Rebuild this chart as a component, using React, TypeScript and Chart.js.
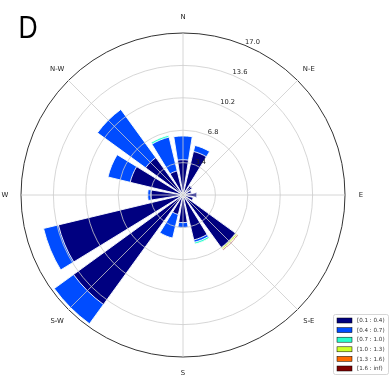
import React, { useEffect, useRef } from "react";
import { Chart, registerables } from "chart.js";

Chart.register(...registerables);

// 16 wind directions, clockwise from North
const directions = ["N", "NNE", "NE", "ENE", "E", "ESE", "SE", "SSE", "S", "SSW", "SW", "WSW", "W", "WNW", "NW", "NNW"];
const compassLabels = ["N", "N-E", "E", "S-E", "S", "S-W", "W", "N-W"];

// frequency (%) per speed bin and direction
const bin01to04 = [3.7, 4.7, 1.2, 0.9, 1.45, 1.1, 6.85, 4.85, 2.9, 2.1, 14.2, 13.45, 3.35, 5.7, 4.85, 2.6];
const bin04to07 = [2.5, 0.65, 0, 0, 0, 0, 0, 0.25, 0.55, 2.55, 2.5, 1.6, 0.35, 2.4, 6.25, 3.65];
const bin07to10 = [0, 0, 0, 0, 0, 0, 0, 0.2, 0, 0, 0, 0, 0, 0, 0, 0.2];
const bin10to13 = [0, 0, 0, 0, 0, 0, 0.16, 0, 0, 0, 0, 0, 0, 0, 0, 0];
const bin13to16 = [0, 0, 0, 0, 0, 0, 0.05, 0, 0, 0, 0, 0, 0, 0, 0, 0];
const bin16toInf = [0, 0, 0, 0, 0, 0, 0.1, 0, 0, 0, 0, 0, 0, 0, 0, 0];

const bins = [bin01to04, bin04to07, bin07to10, bin10to13, bin13to16, bin16toInf];
const binLabels = ["[0.1 : 0.4)", "[0.4 : 0.7)", "[0.7 : 1.0)", "[1.0 : 1.3)", "[1.3 : 1.6)", "[1.6 : inf)"];
const binColors = ["#000080", "#004cff", "#29ffce", "#ceff29", "#ff6800", "#800000"];

const radialMax = 17.0;
const radialStep = 3.4;

const SECTOR = 360 / directions.length;
const BAR = SECTOR * 0.8;
const GAP = SECTOR - BAR;

const TEXT_FONT = '"DejaVu Sans", sans-serif';

const overlayPlugin = {
  id: "windroseOverlay",
  afterDraw(chart: any) {
    const ctx = chart.ctx as CanvasRenderingContext2D;
    const scale = chart.scales.r;
    const xc = scale.xCenter;
    const yc = scale.yCenter;
    const R = scale.drawingArea;
    ctx.save();

    // angle grid lines (8 compass directions)
    ctx.strokeStyle = "#cccccc";
    ctx.lineWidth = 0.8;
    for (let i = 0; i < 8; i++) {
      const a = (i * Math.PI) / 4;
      ctx.beginPath();
      ctx.moveTo(xc, yc);
      ctx.lineTo(xc + R * Math.sin(a), yc - R * Math.cos(a));
      ctx.stroke();
    }

    // radial tick labels at 22.5 degrees
    ctx.fillStyle = "#222222";
    ctx.font = `6.7px ${TEXT_FONT}`;
    ctx.textAlign = "left";
    ctx.textBaseline = "alphabetic";
    const la = (22.5 * Math.PI) / 180;
    for (const t of scale.ticks) {
      if (t.value <= 0) continue;
      const r = scale.getDistanceFromCenterForValue(t.value);
      ctx.fillText(Number(t.value).toFixed(1), xc + r * Math.sin(la), yc - r * Math.cos(la) - 1);
    }

    // compass labels
    ctx.font = `6.9px ${TEXT_FONT}`;
    ctx.textAlign = "center";
    ctx.textBaseline = "middle";
    compassLabels.forEach((lab, i) => {
      const a = (i * Math.PI) / 4;
      const r = R + 16;
      ctx.fillText(lab, xc + r * Math.sin(a), yc - r * Math.cos(a));
    });

    // legend
    const bx = 333.5, by = 314.5, bw = 55, bh = 60;
    ctx.fillStyle = "#ffffff";
    ctx.strokeStyle = "#cccccc";
    ctx.lineWidth = 0.8;
    ctx.beginPath();
    (ctx as any).roundRect ? (ctx as any).roundRect(bx, by, bw, bh, 2) : ctx.rect(bx, by, bw, bh);
    ctx.fill();
    ctx.stroke();
    ctx.font = `5.6px ${TEXT_FONT}`;
    ctx.textAlign = "left";
    ctx.textBaseline = "middle";
    binLabels.forEach((lab, i) => {
      const y = by + 6 + i * 9.6;
      ctx.fillStyle = binColors[i];
      ctx.fillRect(337, y - 2.5, 15, 5);
      ctx.strokeStyle = "#000000";
      ctx.lineWidth = 0.5;
      ctx.strokeRect(337, y - 2.5, 15, 5);
      ctx.fillStyle = "#333333";
      ctx.fillText(lab, 357, y + 0.3);
    });

    // panel letter
    ctx.save();
    ctx.translate(18.5, 37.7);
    ctx.scale(0.84, 1);
    ctx.fillStyle = "#000000";
    ctx.font = '31.5px "Liberation Sans", Arial, sans-serif';
    ctx.textAlign = "left";
    ctx.textBaseline = "alphabetic";
    ctx.fillText("D", 0, 0);
    ctx.restore();

    ctx.restore();
  },
};

export default function App() {
  const canvasRef = useRef<HTMLCanvasElement | null>(null);

  useEffect(() => {
    const canvas = canvasRef.current;
    if (!canvas) return;

    // labels interleaved with gaps between bars
    const labels: string[] = [];
    directions.forEach((d) => {
      labels.push(d);
      labels.push("");
    });

    // cumulative (stacked) values per bin
    const cumulative: number[][] = [];
    let running = directions.map(() => 0);
    bins.forEach((b) => {
      running = running.map((v, i) => v + b[i]);
      cumulative.push(running.slice());
    });

    const datasets = cumulative.map((cum, k) => {
      const data: number[] = [];
      cum.forEach((v) => {
        data.push(v);
        data.push(0);
      });
      return {
        label: binLabels[k],
        data,
        backgroundColor: (c: any) => (c.dataIndex % 2 === 0 ? binColors[k] : "rgba(0,0,0,0)"),
        borderColor: "#ffffff",
        borderWidth: (c: any) => (c.dataIndex % 2 === 0 ? 0.9 : 0),
        angle: (c: any) => (c.dataIndex % 2 === 0 ? BAR : GAP),
      };
    });

    const chart = new Chart(canvas, {
      type: "polarArea",
      data: { labels, datasets: datasets as any },
      options: {
        responsive: false,
        animation: false,
        devicePixelRatio: 1,
        layout: { padding: { left: 21, right: 47, top: 33, bottom: 35 } },
        plugins: {
          legend: { display: false },
          tooltip: { enabled: false },
        },
        scales: {
          r: {
            min: 0,
            max: radialMax,
            startAngle: -BAR / 2,
            ticks: { display: false, stepSize: radialStep },
            pointLabels: { display: false },
            angleLines: { display: false },
            grid: {
              circular: true,
              z: 1,
              color: (c: any) => (c.tick && c.tick.value >= radialMax - 0.01 ? "#333333" : "#cccccc"),
              lineWidth: (c: any) => (c.tick && c.tick.value >= radialMax - 0.01 ? 1 : 0.8),
            },
          },
        },
      } as any,
      plugins: [overlayPlugin],
    });

    return () => chart.destroy();
  }, []);

  return (
    <div style={{ position: "absolute", left: 0, top: 0, width: 392, height: 392, background: "#ffffff" }}>
      <canvas ref={canvasRef} width={392} height={392} style={{ display: "block" }} />
    </div>
  );
}
